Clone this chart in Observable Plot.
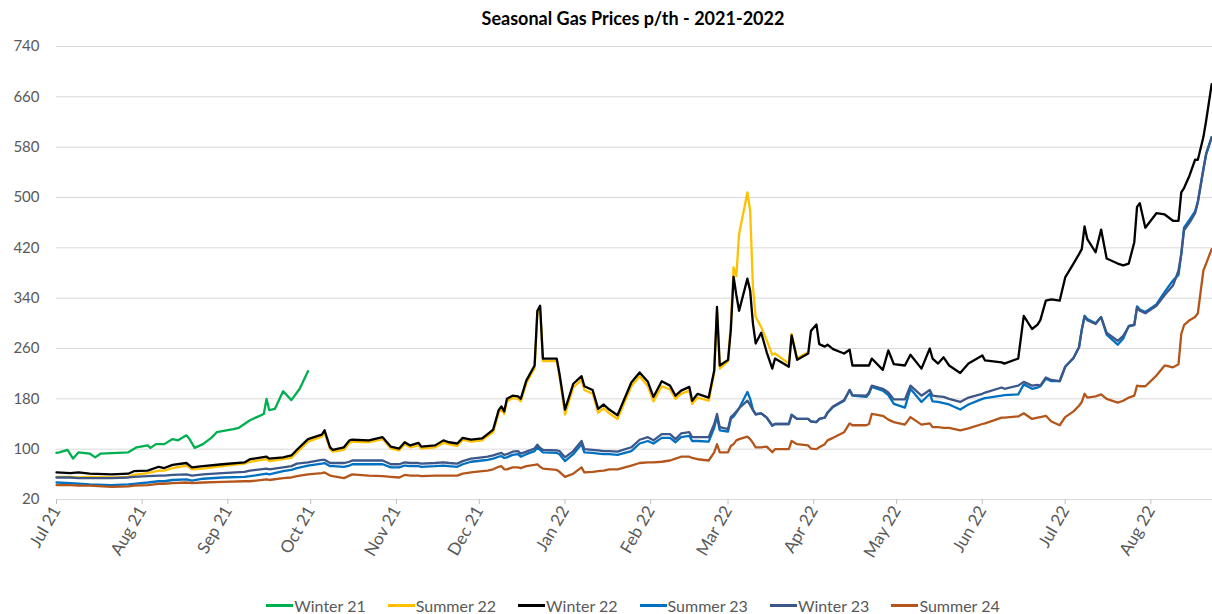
<!DOCTYPE html>
<html>
<head>
<meta charset="utf-8">
<script src="https://cdn.jsdelivr.net/npm/d3@7"></script>
<script src="https://cdn.jsdelivr.net/npm/@observablehq/plot@0.6"></script>
<style>
  html, body { margin: 0; padding: 0; background: #fff; }
  body { width: 1212px; height: 614px; overflow: hidden; font-family: Lato, "Open Sans", "Liberation Sans", sans-serif; }
  #title { box-sizing: border-box; width: 1212px; height: 36px; line-height: 36px; padding-left: 54px;
           text-align: center; font-weight: bold; font-size: 18px; color: #000; }
  #chart svg { display: block; }
  #legend { box-sizing: border-box; width: 1212px; height: 28px; padding-left: 54px; display: flex;
            justify-content: center; align-items: center; gap: 22px; font-size: 16px; color: #595959; }
  .item { display: flex; align-items: center; }
  .sw { width: 27px; height: 3px; margin-right: 1px; }
</style>
</head>
<body>
<div id="title">Seasonal Gas Prices p/th - 2021-2022</div>
<div id="chart"></div>
<div id="legend"></div>
<script>
// ---- data (days since 1 Jul 2021, prices in p/th) ----
const seriesNames = ["Winter 21", "Summer 22", "Winter 22", "Summer 23", "Winter 23", "Summer 24"];
const seriesColors = ["#00B050", "#FFC000", "#000000", "#0070C0", "#3C5788", "#B4561B"];

const winter21Days = [0,1,4,6,8,12,14,16,26,29,33,34,36,39,42,44,47,48,50,53,56,58,64,66,70,75,76,77,79,82,85,88,91];
const winter21 = [94,95,99,85,95,93,87,93,95,103,106,102,108,108,116,114,122,117,102,108,118,127,132,134,146,156,180,162,164,192,178,196,224];

const days = [0,5,8,12,20,26,28,33,37,39,42,47,49,53,60,68,70,76,77,82,85,87,91,96,
  97,99,100,104,106,107,113,118,121,124,126,128,131,132,137,140,142,145,147,150,154,156,158,160,161,162,163,165,167,168,170,173,174,175,176,181,182,184,
  187,190,191,194,196,198,200,203,208,211,214,216,219,222,224,226,229,230,232,236,238,239,240,243,244,245,246,247,250,251,252,253,255,257,259,260,265,266,268,272,
  273,275,276,278,279,281,285,287,288,293,294,295,299,301,303,307,309,313,316,317,319,321,323,327,330,335,336,342,343,348,350,353,355,356,358,360,363,
  365,368,370,371,372,373,376,378,380,384,386,388,390,391,392,394,398,401,404,406,407,408,410,412,413,415,416,418];

// Summer 22 stops trading at the end of March 2022
const summer22 = [56,56,55,56,55,56,59,62,66,66,70,74,68,69,73,77,80,84,81,84,86,95,112,120,
  126,100,96,99,110,112,111,116,101,98,108,103,106,101,103,110,108,105,115,112,114,121,127,158,164,156,176,181,180,176,205,229,316,325,240,240,216,155,
  198,210,194,188,158,165,157,148,200,216,200,176,200,195,180,188,193,172,182,177,222,320,228,240,300,389,375,442,508,479,358,310,294,273,250,252,236,283,245,254];

const winter22 = [63,62,63,61,60,61,65,66,72,70,75,78,71,73,76,79,84,88,85,87,90,99,116,123,
  130,103,99,103,114,115,114,119,104,101,111,106,110,104,106,114,111,109,118,115,117,124,131,162,168,160,180,185,184,180,209,233,320,328,244,244,220,163,
  204,216,200,194,164,171,163,154,206,222,207,183,208,201,185,193,199,177,188,182,225,326,233,242,289,374,345,320,371,352,300,268,285,254,228,244,231,281,242,252,
  288,298,267,263,266,259,252,258,233,233,233,244,226,257,235,233,250,228,260,244,236,246,233,221,236,249,241,238,236,244,312,291,298,305,336,338,336,
  373,395,410,418,454,434,413,449,403,395,392,395,429,485,491,452,475,473,463,463,508,515,535,560,560,596,622,680];

const summer23 = [47,46,45,44,43,44,45,47,49,49,51,52,50,53,55,56,57,61,60,65,67,70,74,77,
  78,73,73,72,74,76,76,76,71,71,74,73,73,72,73,74,73,72,76,80,82,83,85,88,89,86,87,91,92,88,92,97,103,99,95,94,92,81,
  92,108,95,94,93,92,92,91,97,109,113,109,118,118,111,119,121,113,113,112,134,152,130,128,148,152,158,165,191,180,163,156,157,150,137,140,140,155,148,148,
  144,143,148,150,158,167,177,194,185,183,188,199,193,186,172,166,196,175,188,176,175,173,171,163,171,180,181,185,186,187,203,196,198,200,212,208,208,
  231,245,262,290,312,307,300,310,282,266,276,296,298,327,322,318,330,350,368,377,410,452,465,478,494,545,568,596];

const winter23 = [55,55,54,54,54,55,56,57,58,58,59,60,58,60,62,64,66,69,68,71,73,77,79,83,
  83,78,78,78,80,82,82,82,76,76,79,78,78,77,78,79,78,77,81,85,87,88,90,93,94,91,92,96,97,93,96,101,107,102,99,98,97,87,
  97,113,100,99,98,97,97,96,103,115,119,114,124,124,116,125,127,119,119,119,140,156,135,132,151,155,160,165,177,170,162,155,157,150,138,140,140,154,148,148,
  144,143,148,150,158,168,178,194,186,185,190,201,196,190,179,179,201,185,194,185,184,183,180,175,182,188,190,198,196,201,207,201,202,201,214,210,208,
  231,245,262,290,310,305,299,310,285,272,280,295,297,325,320,316,328,345,360,384,410,448,460,475,492,545,570,596];

const summer24 = [43,43,42,42,40,41,42,43,45,45,46,47,46,47,48,49,49,52,51,54,55,57,60,62,
  63,58,57,54,58,60,58,57,56,55,59,58,58,57,58,58,58,58,61,63,65,66,68,72,73,68,68,71,71,70,73,75,76,72,69,67,64,56,
  61,71,63,64,65,66,68,68,74,78,79,79,80,82,85,88,88,86,84,82,95,108,95,95,105,108,114,116,120,116,110,103,103,104,95,100,100,113,108,106,
  101,100,103,108,114,118,127,141,138,138,140,156,153,147,143,139,151,139,141,135,135,134,134,130,133,140,141,150,150,152,157,148,150,151,153,144,138,
  151,160,169,175,188,182,184,187,180,174,177,182,185,201,200,200,217,233,230,235,283,297,305,310,316,384,395,418];

const yTicks = [20,100,180,260,340,420,500,580,660,740];
const monthTicks = ["2021-07-01","2021-08-01","2021-09-01","2021-10-01","2021-11-01","2021-12-01","2022-01-01",
  "2022-02-01","2022-03-01","2022-04-01","2022-05-01","2022-06-01","2022-07-01","2022-08-01"];
const startDate = "2021-07-01";
const lastDay = 418.3;

// ---- build table ----
const t0 = new Date(startDate + "T00:00:00Z").getTime();
const toDate = d => new Date(t0 + d * 864e5);
const rows = [];
winter21Days.forEach((d, i) => rows.push({series: "Winter 21", date: toDate(d), value: winter21[i]}));
const fwd = [["Summer 22", summer22], ["Winter 22", winter22], ["Summer 23", summer23], ["Winter 23", winter23], ["Summer 24", summer24]];
for (const [name, vals] of fwd) {
  days.forEach((d, i) => { if (vals[i] != null) rows.push({series: name, date: toDate(d), value: vals[i]}); });
}

const fontFam = 'Lato, "Open Sans", "Liberation Sans", sans-serif';
const chart = Plot.plot({
  width: 1212,
  height: 555,
  marginTop: 10,
  marginLeft: 56,
  marginRight: 0,
  marginBottom: 92,
  style: {fontFamily: fontFam, fontSize: "14px", color: "#595959", background: "#fff"},
  x: {type: "utc", domain: [toDate(0), toDate(lastDay)]},
  y: {domain: [20, 740]},
  color: {domain: seriesNames, range: seriesColors},
  marks: [
    Plot.gridY(yTicks, {stroke: "#d9d9d9", strokeOpacity: 1, strokeWidth: 1}),
    Plot.axisY(yTicks, {tickSize: 0, tickPadding: 17, fontSize: 15, fill: "#595959", label: null}),
    Plot.axisX(monthTicks.map(s => new Date(s + "T00:00:00Z")), {
      tickFormat: d3.utcFormat("%b %y"), tickRotate: -60, tickSize: 5, tickPadding: 3,
      stroke: "#bfbfbf", fill: "#595959", fontSize: 17, label: null
    }),
    Plot.line(rows, {x: "date", y: "value", z: "series", stroke: "series", strokeWidth: 2.3, strokeLinejoin: "round"})
  ]
});
document.getElementById("chart").appendChild(chart);

// ---- legend ----
const legend = document.getElementById("legend");
seriesNames.forEach((name, i) => {
  const item = document.createElement("div");
  item.className = "item";
  const sw = document.createElement("span");
  sw.className = "sw";
  sw.style.background = seriesColors[i];
  const tx = document.createElement("span");
  tx.textContent = name;
  item.appendChild(sw);
  item.appendChild(tx);
  legend.appendChild(item);
});
</script>
</body>
</html>
